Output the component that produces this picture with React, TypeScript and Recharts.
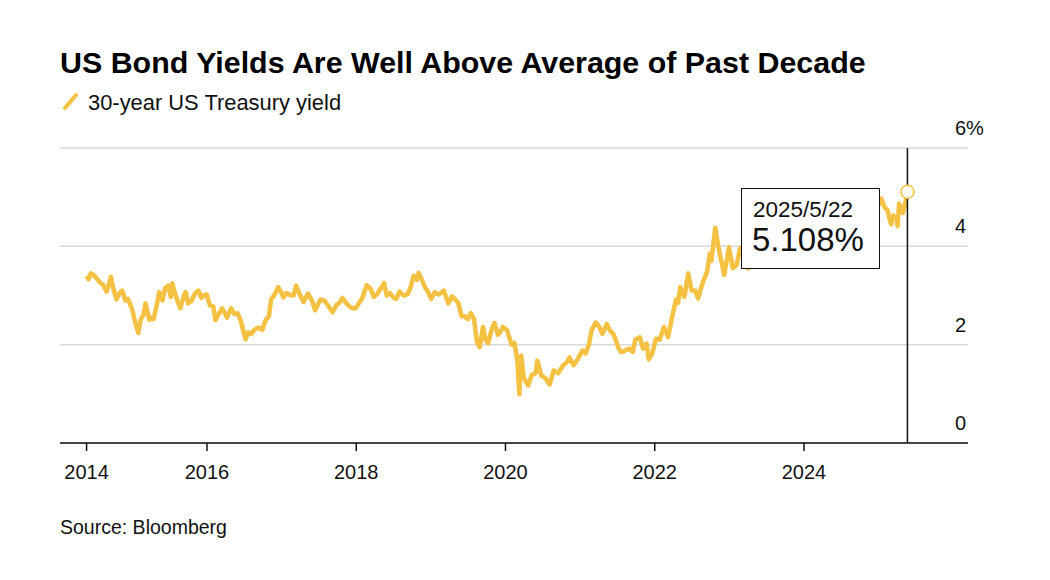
import React from "react";
import {
  LineChart,
  Line,
  XAxis,
  YAxis,
  CartesianGrid,
  ReferenceLine,
  ReferenceDot,
} from "recharts";

const TITLE = "US Bond Yields Are Well Above Average of Past Decade";
const SERIES_NAME = "30-year US Treasury yield";
const SOURCE = "Source: Bloomberg";
const LAST_LABEL = "2025/5/22";
const LAST_VALUE_TEXT = "5.108%";

const DATES = [
  "2014-05-22","2014-06-01","2014-06-12","2014-06-25","2014-07-10","2014-07-25","2014-08-10","2014-08-28",
  "2014-09-10","2014-09-18","2014-10-01","2014-10-15","2014-10-30","2014-11-12","2014-11-28","2014-12-10",
  "2014-12-31","2015-01-15","2015-01-30","2015-02-10","2015-02-25","2015-03-06","2015-03-25","2015-04-05",
  "2015-04-15","2015-04-30","2015-05-12","2015-05-28","2015-06-10","2015-06-25","2015-07-08","2015-07-15",
  "2015-07-28","2015-08-10","2015-08-24","2015-09-10","2015-09-18","2015-10-01","2015-10-15","2015-11-05",
  "2015-11-20","2015-12-05","2015-12-15","2015-12-31","2016-01-15","2016-02-01","2016-02-11","2016-02-25",
  "2016-03-15","2016-03-31","2016-04-08","2016-04-28","2016-05-15","2016-05-31","2016-06-15","2016-06-27",
  "2016-07-08","2016-07-20","2016-08-05","2016-08-20","2016-09-10","2016-09-28","2016-10-15","2016-10-31",
  "2016-11-10","2016-11-25","2016-12-15","2016-12-31","2017-01-10","2017-01-25","2017-02-10","2017-02-28",
  "2017-03-13","2017-03-31","2017-04-18","2017-05-10","2017-05-31","2017-06-14","2017-06-30","2017-07-10",
  "2017-07-31","2017-08-15","2017-09-07","2017-09-25","2017-10-10","2017-10-25","2017-11-10","2017-11-30",
  "2017-12-15","2017-12-29","2018-01-15","2018-01-31","2018-02-21","2018-03-10","2018-03-28","2018-04-15",
  "2018-05-17","2018-05-30","2018-06-15","2018-06-29","2018-07-15","2018-08-01","2018-08-20","2018-09-10",
  "2018-09-25","2018-10-09","2018-10-25","2018-11-02","2018-11-20","2018-12-05","2018-12-15","2019-01-03",
  "2019-01-20","2019-02-05","2019-02-20","2019-03-05","2019-03-27","2019-04-15","2019-04-30","2019-05-15",
  "2019-05-31","2019-06-15","2019-06-30","2019-07-15","2019-07-31","2019-08-15","2019-08-28","2019-09-13",
  "2019-09-25","2019-10-08","2019-10-25","2019-11-08","2019-11-25","2019-12-05","2019-12-20","2020-01-08",
  "2020-01-31","2020-02-14","2020-02-28","2020-03-09","2020-03-18","2020-03-31","2020-04-21","2020-05-08",
  "2020-05-28","2020-06-05","2020-06-25","2020-07-15","2020-08-04","2020-08-25","2020-09-15","2020-10-10",
  "2020-10-30","2020-11-10","2020-11-30","2020-12-18","2021-01-12","2021-01-28","2021-02-15","2021-02-25",
  "2021-03-18","2021-04-05","2021-04-20","2021-05-12","2021-05-28","2021-06-15","2021-07-06","2021-07-20",
  "2021-08-05","2021-08-30","2021-09-15","2021-09-28","2021-10-20","2021-11-05","2021-11-22","2021-12-03",
  "2021-12-20","2022-01-07","2022-01-25","2022-02-15","2022-03-07","2022-03-28","2022-04-15","2022-04-25",
  "2022-05-06","2022-05-26","2022-06-14","2022-06-30","2022-07-18","2022-08-01","2022-08-22","2022-09-15",
  "2022-09-27","2022-10-05","2022-10-24","2022-11-10","2022-12-07","2022-12-30","2023-01-18","2023-02-05",
  "2023-02-22","2023-03-02","2023-03-20","2023-04-05","2023-04-20","2023-05-05","2023-05-25","2023-06-15",
  "2023-07-05","2023-07-18","2023-08-03","2023-08-22","2023-09-05","2023-09-20","2023-10-05","2023-10-19",
  "2023-11-01","2023-11-15","2023-12-01","2023-12-27","2024-01-15","2024-02-01","2024-02-15","2024-03-08",
  "2024-03-25","2024-04-16","2024-04-30","2024-05-15","2024-05-29","2024-06-14","2024-07-01","2024-07-15",
  "2024-08-05","2024-08-20","2024-09-16","2024-10-01","2024-10-15","2024-11-01","2024-11-15","2024-12-05",
  "2024-12-19","2025-01-14","2025-01-31","2025-02-12","2025-02-28","2025-03-04","2025-03-14","2025-03-31",
  "2025-04-04","2025-04-11","2025-04-30","2025-05-15","2025-05-22",
];

const YIELDS = [
  3.40,3.33,3.45,3.42,3.35,3.27,3.22,3.08,
  3.25,3.38,3.12,2.92,3.05,3.10,2.90,2.93,
  2.72,2.45,2.24,2.50,2.62,2.84,2.50,2.55,
  2.52,2.80,3.07,2.90,3.15,3.20,2.97,3.25,
  3.05,2.88,2.74,3.00,3.07,2.84,2.88,3.05,
  3.10,2.95,3.00,3.02,2.80,2.78,2.50,2.60,
  2.74,2.62,2.55,2.74,2.62,2.64,2.48,2.28,
  2.11,2.25,2.22,2.30,2.35,2.30,2.50,2.58,
  2.92,3.00,3.17,3.06,2.96,3.05,3.01,3.00,
  3.20,3.02,2.87,3.04,2.88,2.70,2.84,2.92,
  2.89,2.80,2.66,2.80,2.85,2.95,2.86,2.77,
  2.74,2.74,2.85,2.95,3.21,3.15,2.97,3.04,
  3.25,3.00,3.05,2.97,2.93,3.08,3.00,3.03,
  3.18,3.40,3.32,3.46,3.30,3.15,3.10,2.93,
  3.07,3.02,3.05,3.10,2.84,2.98,2.92,2.85,
  2.58,2.58,2.52,2.64,2.52,2.05,1.95,2.36,
  2.10,2.03,2.30,2.44,2.20,2.25,2.36,2.30,
  2.00,2.03,1.68,0.99,1.78,1.32,1.17,1.38,
  1.42,1.68,1.37,1.32,1.19,1.48,1.42,1.58,
  1.65,1.74,1.58,1.69,1.88,1.82,2.03,2.28,
  2.45,2.36,2.22,2.42,2.28,2.20,1.95,1.85,
  1.87,1.92,1.85,2.10,2.15,1.92,2.02,1.70,
  1.82,2.12,2.10,2.36,2.15,2.58,2.92,2.85,
  3.17,2.97,3.45,3.10,3.10,2.94,3.24,3.50,
  3.85,3.70,4.38,3.95,3.42,3.98,3.56,3.62,
  3.95,3.98,3.62,3.55,3.76,3.72,3.98,3.85,
  3.95,3.85,4.30,4.42,4.30,4.50,4.90,5.11,
  4.85,4.62,4.40,4.01,4.30,4.20,4.50,4.26,
  4.42,4.74,4.79,4.50,4.70,4.35,4.62,4.40,
  4.10,4.13,3.95,4.10,4.40,4.55,4.60,4.35,
  4.72,4.97,4.79,4.75,4.49,4.45,4.63,4.57,
  4.41,4.87,4.68,4.95,5.108,
];

const Y_TICKS = [0, 2, 4, 6];
const X_TICK_YEARS = [2016, 2018, 2020, 2022, 2024];
const X_DOMAIN = [2014.03, 2026.198];

const LINE_COLOR = "#f5c142";
const FONT = '"Liberation Sans", Arial, Helvetica, sans-serif';

function toYear(s: string): number {
  const [y, m, d] = s.split("-").map(Number);
  const start = Date.UTC(y, 0, 1);
  const end = Date.UTC(y + 1, 0, 1);
  return y + (Date.UTC(y, m - 1, d) - start) / (end - start);
}

const data = DATES.map((d, i) => ({ t: toYear(d), v: YIELDS[i] }));
const first = data[0];
const last = data[data.length - 1];
const xTicks = [first.t, ...X_TICK_YEARS];

const YTick = (props: any) => {
  const { x, y, payload } = props;
  const label = payload.value === 6 ? "6%" : String(payload.value);
  return (
    <text x={x - 13} y={y - 13} fontSize={20} fontFamily={FONT} fill="#111" textAnchor="start">
      {label}
    </text>
  );
};

const XTick = (props: any) => {
  const { x, y, payload } = props;
  return (
    <text x={x} y={y} fontSize={20} fontFamily={FONT} fill="#111" textAnchor="middle">
      {String(Math.floor(payload.value))}
    </text>
  );
};

export default function App() {
  return (
    <div style={{ position: "absolute", left: 0, top: 0, width: 1050, height: 580, background: "#fff", fontFamily: FONT }}>
      <LineChart
        width={1050}
        height={580}
        data={data}
        margin={{ top: 148, right: 42, bottom: 107, left: 60 }}
      >
        <CartesianGrid horizontal vertical={false} stroke="#d9d9d9" strokeWidth={1.5} />
        <XAxis
          dataKey="t"
          type="number"
          domain={X_DOMAIN}
          ticks={xTicks}
          allowDataOverflow
          height={30}
          axisLine={{ stroke: "#111", strokeWidth: 1.5 }}
          tickLine={{ stroke: "#111", strokeWidth: 1.5 }}
          tickSize={8}
          tickMargin={28}
          tick={<XTick />}
          interval={0}
        />
        <YAxis
          orientation="right"
          domain={[0, 6]}
          ticks={Y_TICKS}
          width={40}
          axisLine={false}
          tickLine={false}
          tickSize={0}
          tickMargin={0}
          tick={<YTick />}
          interval={0}
        />
        <Line
          type="linear"
          dataKey="v"
          stroke={LINE_COLOR}
          strokeWidth={4.5}
          strokeLinejoin="round"
          dot={false}
          isAnimationActive={false}
        />
        <ReferenceLine x={last.t} stroke="#111" strokeWidth={1.5} />
        <ReferenceDot x={last.t} y={last.v} r={6.5} fill="#fff" stroke={LINE_COLOR} strokeWidth={1.5} />
      </LineChart>
      <svg
        width={1050}
        height={580}
        style={{ position: "absolute", left: 0, top: 0, pointerEvents: "none" }}
      >
        <text x={60} y={73} fontSize={30.4} fontWeight={700} fontFamily={FONT} fill="#000">
          {TITLE}
        </text>
        <line x1={65} y1={108} x2={76} y2={95} stroke={LINE_COLOR} strokeWidth={4} strokeLinecap="round" />
        <text x={88} y={109.5} fontSize={21.9} fontFamily={FONT} fill="#111">
          {SERIES_NAME}
        </text>
        <rect x={741.5} y={188.5} width={138} height={80} fill="#fff" stroke="#111" strokeWidth={1} />
        <text x={753} y={217} fontSize={22.5} fontFamily={FONT} fill="#111">
          {LAST_LABEL}
        </text>
        <text x={752} y={251} fontSize={33} fontFamily={FONT} fill="#111">
          {LAST_VALUE_TEXT}
        </text>
        <text x={60} y={534} fontSize={19.5} fontFamily={FONT} fill="#111">
          {SOURCE}
        </text>
      </svg>
    </div>
  );
}
